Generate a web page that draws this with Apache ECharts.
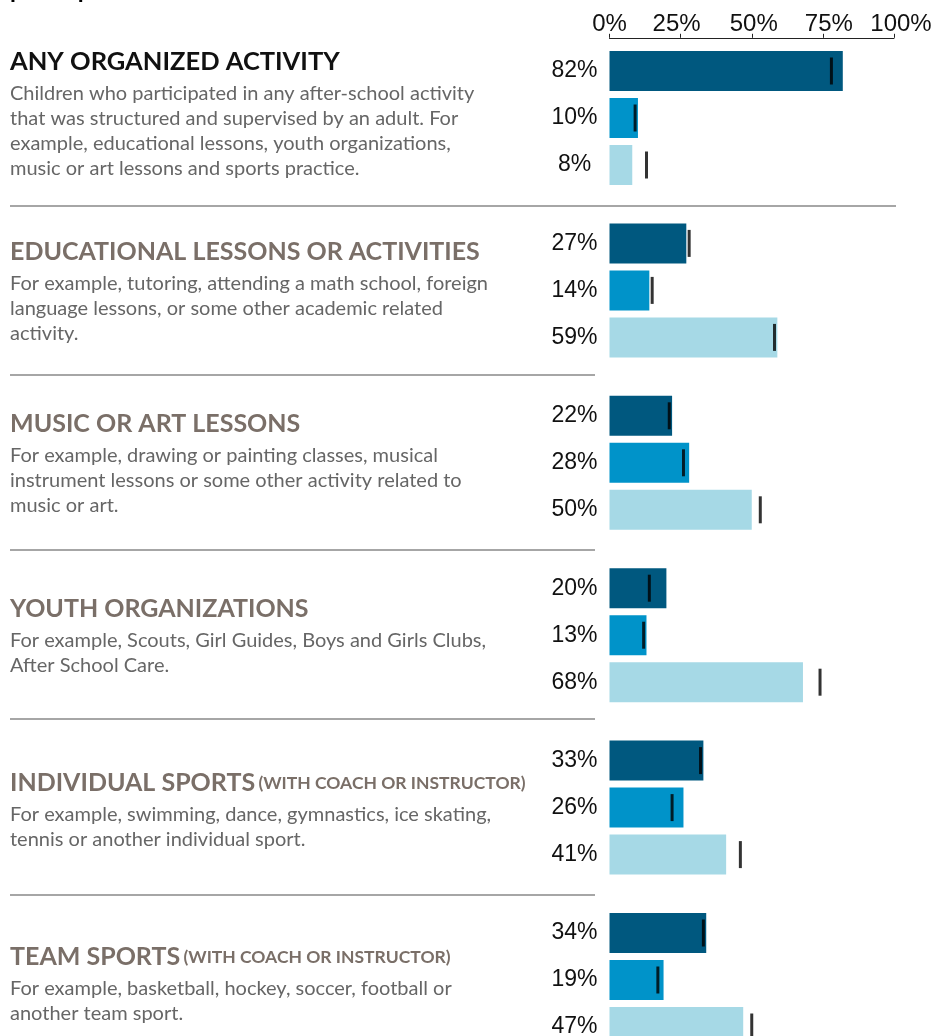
<!DOCTYPE html>
<html>
<head>
<meta charset="utf-8">
<script src="https://cdn.jsdelivr.net/npm/echarts@6/dist/echarts.min.js"></script>
<style>
  html, body { margin: 0; padding: 0; background: #fff; }
  #main { width: 951px; height: 1036px; }
</style>
</head>
<body>
<div id="main"></div>
<script>
// activity groups, top to bottom
var categories = ['Any organized activity', 'Educational lessons or activities', 'Music or art lessons',
  'Youth organizations', 'Individual sports', 'Team sports']

// bar values (%)
var darkValues = [82, 27, 22, 20, 33, 34]
var midValues = [10, 14, 28, 13, 26, 19]
var lightValues = [8, 59, 50, 68, 41, 47]

// black tick marks (%)
var darkMarks = [78, 28, 21, 14, 32, 33]
var midMarks = [9, 15, 26, 12, 22, 17]
var lightMarks = [13, 58, 53, 74, 46, 50]

var tickValues = [0, 25, 50, 75, 100]

var headings = ['ANY ORGANIZED ACTIVITY', 'EDUCATIONAL LESSONS OR ACTIVITIES', 'MUSIC OR ART LESSONS',
  'YOUTH ORGANIZATIONS', 'INDIVIDUAL SPORTS', 'TEAM SPORTS']
var headingNotes = ['', '', '', '', '(WITH COACH OR INSTRUCTOR)', '(WITH COACH OR INSTRUCTOR)']
var descriptions = [
  'Children who participated in any after-school activity\nthat was structured and supervised by an adult. For\nexample, educational lessons, youth organizations,\nmusic or art lessons and sports practice.',
  'For example, tutoring, attending a math school, foreign\nlanguage lessons, or some other academic related\nactivity.',
  'For example, drawing or painting classes, musical\ninstrument lessons or some other activity related to\nmusic or art.',
  'For example, Scouts, Girl Guides, Boys and Girls Clubs,\nAfter School Care.',
  'For example, swimming, dance, gymnastics, ice skating,\ntennis or another individual sport.',
  'For example, basketball, hockey, soccer, football or\nanother team sport.'
]

var colors = ['#00587f', '#0093c9', '#a6d9e6']
var headingY = [62, 252, 424, 609, 783, 957]
var ruleY = [206, 375, 550, 719, 895]
// small nudges of the top tick labels, as in the original
var tickShift = { 0: 0, 25: -4, 50: 2, 75: 6, 100: 7 }

var chartDom = document.getElementById('main')
var myChart = echarts.init(chartDom)

var graphics = []
graphics.push({
  type: 'text', left: 10, top: -22, silent: true,
  style: { text: 'participate in:', font: 'bold 24px Lato', fill: '#000' }
})
headings.forEach(function (h, i) {
  graphics.push({
    type: 'text', x: 10, y: headingY[i], silent: true,
    style: {
      text: headingNotes[i] ? '{h|' + h + '} {n|' + headingNotes[i] + '}' : '{h|' + h + '}',
      verticalAlign: 'middle',
      rich: {
        h: { font: i === 0 ? 'bold 25.5px Lato' : 'bold 25px Lato', fill: i === 0 ? '#111' : '#7a6f68' },
        n: { font: 'bold 17.5px Lato', fill: '#7a6f68' }
      }
    }
  })
  graphics.push({
    type: 'text', x: 10, y: headingY[i] + 31.5 - 12.5, silent: true,
    style: {
      text: descriptions[i], font: '20px Lato', fill: '#666',
      lineHeight: 25, verticalAlign: 'top'
    }
  })
})
ruleY.forEach(function (y, i) {
  graphics.push({
    type: 'line', silent: true,
    shape: { x1: 10, y1: y, x2: i === 0 ? 896 : 595, y2: y },
    style: { stroke: '#888', lineWidth: 1.5 }
  })
})

function barSeries(values, color) {
  return {
    type: 'bar',
    data: values,
    barWidth: 40,
    barGap: '17.5%',
    itemStyle: { color: color },
    label: {
      show: true,
      position: 'left',
      distance: 35,
      align: 'center',
      formatter: '{c}%',
      fontFamily: 'Liberation Sans',
      fontSize: 23,
      color: '#111'
    }
  }
}

function markSeries(marks, dy) {
  return {
    type: 'scatter',
    data: marks.map(function (v, i) { return [v, categories[i]] }),
    symbol: 'rect',
    symbolSize: [3, 27],
    symbolOffset: [0, dy],
    itemStyle: { color: '#000' },
    z: 5
  }
}

var tickRich = {}
tickValues.forEach(function (v) {
  var d = tickShift[v]
  tickRich['t' + v] = {
    fontFamily: 'Liberation Sans', fontSize: 24, color: '#111',
    padding: d >= 0 ? [0, 0, 0, 2 * d] : [0, -2 * d, 0, 0]
  }
})

var option = {
  animation: false,
  grid: { left: 609.5, top: 31.8, width: 284.5, height: 1034.4, outerBoundsMode: 'none', containLabel: false },
  xAxis: {
    type: 'value',
    position: 'top',
    offset: -6,
    min: 0,
    max: 100,
    interval: 25,
    axisLine: { show: true, lineStyle: { color: '#222', width: 1 } },
    axisTick: { show: true, length: 4, lineStyle: { color: '#222' } },
    splitLine: { show: false },
    axisLabel: {
      formatter: function (v) { return '{t' + v + '|' + v + '%}' },
      rich: tickRich,
      margin: 1
    }
  },
  yAxis: {
    type: 'category',
    data: categories,
    inverse: true,
    show: false
  },
  graphic: graphics,
  series: [
    barSeries(darkValues, colors[0]),
    barSeries(midValues, colors[1]),
    barSeries(lightValues, colors[2]),
    markSeries(darkMarks, -47),
    markSeries(midMarks, 0),
    markSeries(lightMarks, 47)
  ]
}

option && myChart.setOption(option)
</script>
</body>
</html>
